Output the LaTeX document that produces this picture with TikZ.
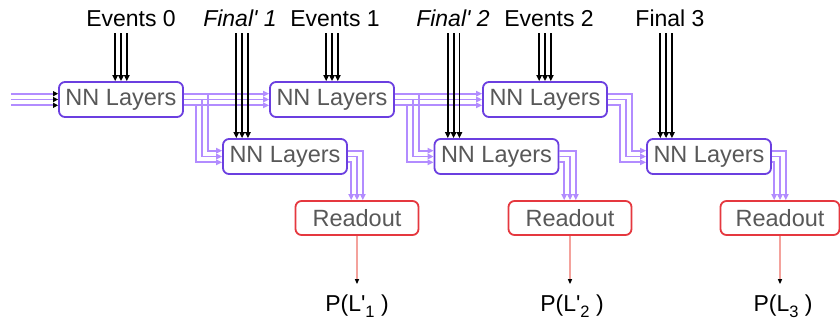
\documentclass[tikz,border=0pt]{standalone}
\usepackage{fontspec}
\newfontfamily\diagfont{Liberation Sans}
\usetikzlibrary{arrows.meta,calc}

\definecolor{nnedge}{HTML}{6B3FE0}
\definecolor{roedge}{HTML}{E5383F}
\definecolor{flow}{HTML}{B28CFF}
\definecolor{boxtext}{HTML}{585858}
\definecolor{outc}{HTML}{F4A29C}

% lowered subscript used in the output labels
\newcommand\lowsub[1]{\raisebox{-6pt}{\fontsize{16.5}{18}\selectfont #1}}

\begin{document}
\begin{tikzpicture}[x=1pt,y=-1pt,
  nnbox/.style={draw=nnedge, line width=1.8pt, rounded corners=6pt,
    minimum width=124pt, minimum height=35pt, inner sep=0pt,
    text=boxtext, fill=white, font=\diagfont\fontsize{23.5}{28}\selectfont},
  robox/.style={nnbox, draw=roedge, minimum width=123pt, minimum height=34pt},
  lbl/.style={anchor=base, inner sep=0pt, font=\diagfont\fontsize{23}{28}\selectfont},
  flowline/.style={draw=flow, line width=1.9pt,
    -{Triangle[length=6pt,width=5.5pt]}},
  inline/.style={draw=flow, line width=1.9pt,
    -{Triangle[length=5pt,width=5pt,color=black]}},
  evline/.style={draw=black, line width=1.8pt,
    -{Triangle[length=6pt,width=5.5pt]}},
  outline/.style={draw=outc, line width=1.5pt,
    -{Triangle[length=5pt,width=4pt,color=black]}},
]
\useasboundingbox (0,0) rectangle (840,327);

% processing blocks
\node[nnbox] (A0) at (121,99.5) {NN Layers};
\node[nnbox] (A1) at (332,99.5) {NN Layers};
\node[nnbox] (A2) at (545,99.5) {NN Layers};
\node[nnbox] (B1) at (285,156.5) {NN Layers};
\node[nnbox] (B2) at (496.5,156.5) {NN Layers};
\node[nnbox] (B3) at (709,156.5) {NN Layers};
\node[robox] (R1) at (357,218) {Readout};
\node[robox] (R2) at (570,218) {Readout};
\node[robox, minimum width=119pt] (R3) at (780,218) {Readout};

% input labels
\node[lbl] (E0) at (131,26) {Events 0};
\node[lbl] (F1) at (240,26) {\itshape Final' 1};
\node[lbl] (E1) at (335,26) {Events 1};
\node[lbl] (F2) at (453,26) {\itshape Final' 2};
\node[lbl] (E2) at (549,26) {Events 2};
\node[lbl] (F3) at (670,26) {Final 3};

% output labels
\node[lbl] (P1) at (357,311) {P(L'\lowsub{1} )};
\node[lbl] (P2) at (572,311) {P(L'\lowsub{2} )};
\node[lbl] (P3) at (783,311) {P(L\lowsub{3} )};

% incoming state
\coordinate (src) at (11,99.5);
\foreach \d in {-5.8,0,5.8}{
  \draw[inline] ([yshift=\d pt]src) -- ([yshift=\d pt]A0.west);
}

% state passed down to the lower row
\foreach \a/\c in {A0/B1, A1/B2, A2/B3}{
  \foreach \d in {-5.8,0,5.8}{
    \coordinate (s) at ([yshift=\d pt]\a.east);
    \coordinate (t) at ([yshift=\d pt]\c.west);
    \path (s) ++({18+\d},0) coordinate (v);
    \draw[flowline] (s) -| (v |- t) -- (t);
  }
}
% state passed along the top row
\foreach \a/\b in {A0/A1, A1/A2}{
  \foreach \d in {-5.8,0,5.8}{
    \draw[flowline] ([yshift=\d pt]\a.east) -- ([yshift=\d pt]\b.west);
  }
}

% lower row into the readouts
\foreach \b/\r in {B1/R1, B2/R2, B3/R3}{
  \foreach \d in {-5.8,0,5.8}{
    \draw[flowline] ([yshift=\d pt]\b.east) -| ([xshift=\d pt]\r.north);
  }
}

% event inputs
\foreach \e/\a in {E0/A0, E1/A1, E2/A2}{
  \foreach \d in {-5.8,0,5.8}{
    \draw[evline] ($(\a.north |- \e.base)+(\d,7)$) -- ([xshift=\d pt]\a.north);
  }
}
% final inputs
\foreach \f/\b in {F1/B1, F2/B2, F3/B3}{
  \foreach \d in {-5.8,0,5.8}{
    \draw[evline] ($(\b.north west |- \f.base)+(20+\d,7)$) -- ($(\b.north west)+(20+\d,0)$);
  }
}

% readout outputs
\foreach \r/\p in {R1/P1, R2/P2, R3/P3}{
  \draw[outline] (\r.south) -- ($(\r.south |- \p.north)+(0,-10)$);
}
\end{tikzpicture}
\end{document}
